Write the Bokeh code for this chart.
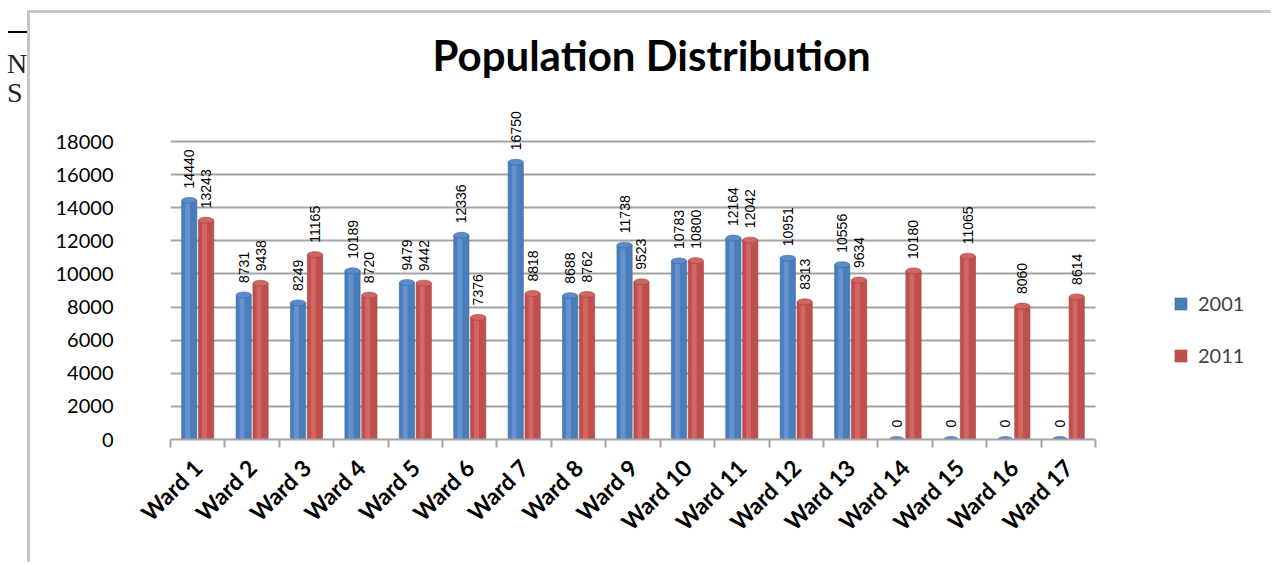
import math
from bokeh.plotting import figure
from bokeh.models import (ColumnDataSource, Range1d, Div, Legend, LegendItem,
                          FixedTicker)
from bokeh.layouts import row
from bokeh.core.properties import value
from bokeh.embed import file_html
from bokeh.resources import INLINE

wards = [f"Ward {i}" for i in range(1, 18)]
pop_2001 = [14440, 8731, 8249, 10189, 9479, 12336, 16750, 8688, 11738, 10783,
            12164, 10951, 10556, 0, 0, 0, 0]
pop_2011 = [13243, 9438, 11165, 8720, 9442, 7376, 8818, 8762, 9523, 10800,
            12042, 8313, 9634, 10180, 11065, 8060, 8614]
series = ["2001", "2011"]
y_ticks = [0, 2000, 4000, 6000, 8000, 10000, 12000, 14000, 16000, 18000]

BLUE = "#4a7ebb"
RED = "#c0504d"

n = len(wards)
centers = [i + 0.5 for i in range(n)]
off = 0.155
w = 0.28
src = ColumnDataSource(dict(
    xc=centers,
    xa=[c - off for c in centers], xb=[c + off for c in centers],
    xha=[c - off - 0.03 for c in centers], xhb=[c + off - 0.03 for c in centers],
    a=pop_2001, b=pop_2011,
    la=[str(v) for v in pop_2001], lb=[str(v) for v in pop_2011],
))

# canvas origin on the page
OX, OY = 30, 13
W, H = 1274 - OX, 565 - OY
frame_l, frame_r, frame_t, frame_b = 170 - OX, 1262 - OX, 91 - OY, 439 - OY
px_per_cat = (1095 - 170) / n
x_end = n + (1262 - 1095) / px_per_cat
y_end = 18000 * (439 - 91) / (439 - 141)

p = figure(x_range=Range1d(0, x_end), y_range=Range1d(0, y_end),
           width=W, height=H, output_backend="svg", toolbar_location=None,
           min_border_left=frame_l, min_border_right=W - frame_r,
           min_border_top=frame_t, min_border_bottom=H - frame_b,
           outline_line_color=None,
           background_fill_color="white", border_fill_color="white")
p.margin = (OY - 3, 0, 0, 0)
p.styles = {"border-left": "3px solid #c8c8c8", "border-top": "3px solid #c8c8c8"}

rb = p.vbar(x="xa", top="a", width=w, source=src,
            fill_color=BLUE, line_color="#3a6aa5", line_width=0.6)
rr = p.vbar(x="xb", top="b", width=w, source=src,
            fill_color=RED, line_color="#a4403d", line_width=0.6)
# cylinder highlights
p.vbar(x="xha", top="a", width=0.09, source=src,
       fill_color="#6f9bd3", line_color=None, fill_alpha=0.7)
p.vbar(x="xhb", top="b", width=0.09, source=src,
       fill_color="#d7716e", line_color=None, fill_alpha=0.7)
# cylinder caps
p.ellipse(x="xa", y="a", width=15, height=6,
          width_units="screen", height_units="screen", source=src,
          fill_color="#5b8bc8", line_color="#3a6aa5", line_width=0.6)
p.ellipse(x="xb", y="b", width=15, height=6,
          width_units="screen", height_units="screen", source=src,
          fill_color="#cf6663", line_color="#a4403d", line_width=0.6)

# data labels
lab_kw = dict(angle=math.pi / 2, text_align="left", text_baseline="middle",
              text_font=value("Liberation Sans"), text_font_size="14px",
              text_color="black", y_offset=-12, source=src)
p.text(x="xa", y="a", text="la", **lab_kw)
p.text(x="xb", y="b", text="lb", **lab_kw)

p.title.text = "Population Distribution"
p.title.align = "left"
p.title.offset = 432 - 170
p.title.text_font = "Lato"
p.title.text_font_size = "42px"
p.title.text_font_style = "bold"
p.title.text_color = "black"
p.title.standoff = 24

p.xgrid.grid_line_color = None
p.ygrid.grid_line_color = "#a4a4a4"
p.ygrid.grid_line_width = 2
try:
    p.ygrid.cross_bounds = (0, n)
except AttributeError:
    pass
p.yaxis.ticker = FixedTicker(ticks=y_ticks)
p.yaxis.axis_line_color = None
p.yaxis.major_tick_line_color = None
p.yaxis.minor_tick_line_color = None
p.yaxis.major_label_standoff = 51
p.yaxis.major_label_text_font = "Lato"
p.yaxis.major_label_text_font_size = "20px"
p.yaxis.major_label_text_color = "black"

p.xaxis.ticker = FixedTicker(ticks=centers, minor_ticks=list(range(n + 1)))
p.xaxis.major_label_overrides = {c: wlab for c, wlab in zip(centers, wards)}
p.xaxis.bounds = (0, n)
p.xaxis.axis_line_color = "#a4a4a4"
p.xaxis.axis_line_width = 2
p.xaxis.major_tick_line_color = None
p.xaxis.minor_tick_line_color = "#a4a4a4"
p.xaxis.minor_tick_line_width = 2
p.xaxis.minor_tick_in = 0
p.xaxis.minor_tick_out = 8
p.xaxis.major_label_orientation = math.pi / 4
p.xaxis.major_label_standoff = 16
p.xaxis.major_label_text_font = "Lato"
p.xaxis.major_label_text_font_style = "bold"
p.xaxis.major_label_text_font_size = "23px"
p.xaxis.major_label_text_color = "black"

legend = Legend(items=[LegendItem(label=series[0], renderers=[rb]),
                       LegendItem(label=series[1], renderers=[rr])],
                location=(1173 - 170, 439 - 367), border_line_color=None,
                background_fill_alpha=0, padding=0, margin=0,
                glyph_width=15, glyph_height=15, label_height=20,
                spacing=28, label_standoff=10,
                label_text_font="Lato", label_text_font_size="20px")
p.add_layout(legend)

fs = "font-family:'Liberation Serif';font-size:28px;line-height:28px;color:#222;"
side = Div(text=(
    '<div style="position:absolute;left:8px;top:31px;width:19px;'
    'border-top:2px solid black"></div>'
    f'<div style="position:absolute;left:7px;top:50px;{fs}">N</div>'
    f'<div style="position:absolute;left:7px;top:79px;{fs}">S</div>'),
    width=27, height=565, margin=0, styles={"position": "relative", "overflow": "hidden"})

layout = row(side, p, spacing=0)
open("out.html", "w").write(file_html(layout, INLINE))
